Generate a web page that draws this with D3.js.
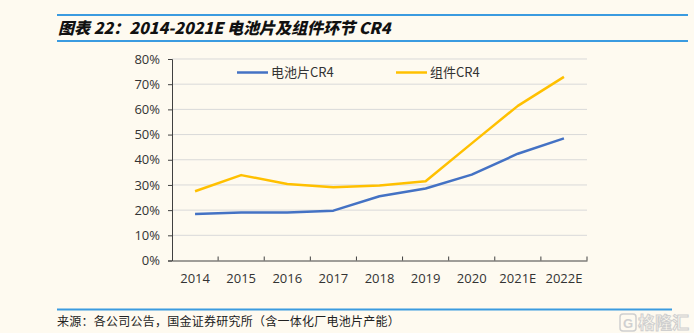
<!DOCTYPE html>
<html>
<head>
<meta charset="utf-8">
<script src="https://cdn.jsdelivr.net/npm/d3@7"></script>
<style>
  html, body { margin: 0; padding: 0; background: #fefaf0; }
  svg { display: block; }
</style>
</head>
<body>
<div id="chart"></div>
<script>
var years = ["2014", "2015", "2016", "2017", "2018", "2019", "2020", "2021E", "2022E"];
var cellCR4 = [18.5, 19.1, 19.1, 19.8, 25.5, 28.6, 34.1, 42.4, 48.5];
var moduleCR4 = [27.5, 33.9, 30.4, 29.1, 29.8, 31.5, 46.5, 61.4, 72.9];
var yTicks = [0, 10, 20, 30, 40, 50, 60, 70, 80];
var seriesNames = ["电池片CR4", "组件CR4"];
var seriesColors = ["#4472c4", "#ffc000"];

var width = 694, height = 333;
var svg = d3.select("#chart").append("svg")
  .attr("width", width)
  .attr("height", height);

svg.append("rect").attr("width", width).attr("height", height).attr("fill", "#fefaf0");

// title block
svg.append("line").attr("x1", 57).attr("x2", 688).attr("y1", 15).attr("y2", 15)
  .attr("stroke", "#3b9be0").attr("stroke-width", 2);
svg.append("line").attr("x1", 57).attr("x2", 688).attr("y1", 41).attr("y2", 41)
  .attr("stroke", "#3b9be0").attr("stroke-width", 2);
svg.append("text")
  .attr("x", 58).attr("y", 34)
  .attr("font-family", "'Noto Sans CJK SC', 'Liberation Sans', sans-serif")
  .attr("font-size", 16)
  .attr("font-weight", "900")
  .attr("font-style", "italic")
  .attr("fill", "#111")
  .text("图表 22：2014-2021E 电池片及组件环节 CR4");

var x = d3.scaleBand().domain(years).range([172, 587]);
var y = d3.scaleLinear().domain([0, 80]).range([260.5, 59]);

var g = svg.append("g");

// grid
g.selectAll(".grid").data(yTicks.slice(1)).enter().append("line")
  .attr("x1", 172).attr("x2", 587)
  .attr("y1", function (d) { return y(d); })
  .attr("y2", function (d) { return y(d); })
  .attr("stroke", "#d9d9d9").attr("stroke-width", 1);

var tickFont = "'Open Sans', 'Noto Sans', sans-serif";

var yAxis = g.append("g")
  .attr("transform", "translate(172,0)")
  .call(d3.axisLeft(y).tickValues(yTicks).tickSize(4).tickPadding(8)
    .tickFormat(function (d) { return d + "%"; }));
yAxis.select(".domain").attr("stroke", "#404040");
yAxis.selectAll(".tick line").attr("stroke", "#404040");
yAxis.selectAll("text").attr("font-family", tickFont).attr("font-size", 13).attr("fill", "#333");

var xAxis = g.append("g")
  .attr("transform", "translate(0," + y(0) + ")")
  .call(d3.axisBottom(x).tickSize(0).tickPadding(13));
xAxis.select(".domain").attr("stroke", "#404040");
xAxis.selectAll("text").attr("font-family", tickFont).attr("font-size", 13).attr("fill", "#333");

// boundary ticks between categories
g.selectAll(".xtick").data(years).enter().append("line")
  .attr("x1", function (d) { return x(d) + x.bandwidth(); })
  .attr("x2", function (d) { return x(d) + x.bandwidth(); })
  .attr("y1", y(0)).attr("y2", y(0) - 4)
  .attr("stroke", "#404040");

var line = d3.line()
  .x(function (d, i) { return x(years[i]) + x.bandwidth() / 2; })
  .y(function (d) { return y(d); });

[cellCR4, moduleCR4].forEach(function (s, i) {
  g.append("path").datum(s)
    .attr("d", line)
    .attr("fill", "none")
    .attr("stroke", seriesColors[i])
    .attr("stroke-width", 2.5)
    .attr("stroke-linejoin", "round");
});

// legend
var legendX = [237, 396];
seriesNames.forEach(function (n, i) {
  g.append("line")
    .attr("x1", legendX[i]).attr("x2", legendX[i] + 31)
    .attr("y1", 72.5).attr("y2", 72.5)
    .attr("stroke", seriesColors[i]).attr("stroke-width", 2.5);
  g.append("text")
    .attr("x", legendX[i] + 34).attr("y", 77)
    .attr("font-family", "'Noto Sans CJK SC', sans-serif")
    .attr("font-size", 13).attr("fill", "#333")
    .text(n);
});

// footer
svg.append("line").attr("x1", 57).attr("x2", 672).attr("y1", 309.5).attr("y2", 309.5)
  .attr("stroke", "#3b9be0").attr("stroke-width", 2);
svg.append("text")
  .attr("x", 57).attr("y", 326)
  .attr("font-family", "'Noto Sans CJK SC', sans-serif")
  .attr("font-size", 12).attr("letter-spacing", 0.25).attr("fill", "#222")
  .text("来源：各公司公告，国金证券研究所（含一体化厂电池片产能）");

// watermark
svg.append("rect").attr("x", 620).attr("y", 314).attr("width", 16).attr("height", 17).attr("rx", 3)
  .attr("fill", "none").attr("stroke", "#cfcfcf").attr("stroke-width", 1.5);
svg.append("text")
  .attr("x", 628).attr("y", 328).attr("text-anchor", "middle")
  .attr("font-family", "'Liberation Sans', sans-serif").attr("font-size", 13).attr("font-weight", "bold")
  .attr("fill", "#d0d0d0").text("G");
svg.append("text")
  .attr("x", 689).attr("y", 329)
  .attr("text-anchor", "end")
  .attr("font-family", "'Noto Sans CJK SC', sans-serif")
  .attr("font-size", 17).attr("font-weight", "bold")
  .attr("fill", "#fefaf0").attr("stroke", "#cfcfcf").attr("stroke-width", 1)
  .text("格隆汇");
</script>
</body>
</html>
